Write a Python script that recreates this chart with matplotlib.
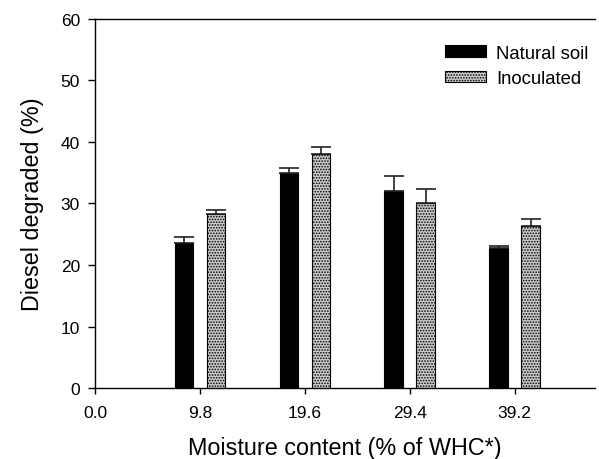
import matplotlib
matplotlib.use("Agg")
import matplotlib.pyplot as plt
import numpy as np

plt.rcParams["font.family"] = ["Liberation Sans", "DejaVu Sans"]
plt.rcParams["hatch.color"] = "#555555"
plt.rcParams["hatch.linewidth"] = 0.8

# --- data ---
moisture = [9.8, 19.6, 29.4, 39.2]
natural = [23.5, 35.0, 32.0, 22.7]
natural_err = [1.1, 0.7, 2.4, 0.4]
inoculated = [28.3, 38.0, 30.1, 26.4]
inoculated_err = [0.6, 1.1, 2.3, 1.1]
xticks = [0.0, 9.8, 19.6, 29.4, 39.2]

fig = plt.figure(figsize=(5.99, 4.60), dpi=100)
ax = fig.add_axes([0.159, 0.154, 0.834, 0.803])

x = np.array(moisture)
w, off = 1.75, 1.5
zeros = [0] * len(x)
ax.bar(x - off, natural, w, color="black", edgecolor="black", linewidth=0.8,
       yerr=[zeros, natural_err], capsize=7,
       error_kw=dict(ecolor="#222222", elinewidth=1.2, capthick=1.2),
       label="Natural soil")
ax.bar(x + off, inoculated, w, color="#cccccc", edgecolor="black", linewidth=0.8,
       hatch="......", yerr=[zeros, inoculated_err], capsize=7,
       error_kw=dict(ecolor="#222222", elinewidth=1.2, capthick=1.2),
       label="Inoculated")

ax.set_xlim(0, 46.7)
ax.set_ylim(0, 60)
ax.set_xticks(xticks)
ax.set_xticklabels([f"{t:.1f}" for t in xticks])
ax.set_yticks(range(0, 61, 10))
ax.tick_params(direction="out", length=5, width=1, labelsize=12.5, pad=6)
ax.tick_params(axis="x", length=4, pad=8)
ax.spines["right"].set_visible(False)
for s in ("left", "bottom", "top"):
    ax.spines[s].set_linewidth(1)

ax.set_xlabel("Moisture content (% of WHC*)", fontsize=16.8, labelpad=12)
ax.set_ylabel("Diesel degraded (%)", fontsize=16.8, labelpad=12)

ax.legend(loc="upper right", bbox_to_anchor=(1.02, 0.975), frameon=False,
          fontsize=13.3, handlelength=2.2, handleheight=0.6, handletextpad=0.55,
          labelspacing=0.45)

fig.savefig("out.png", dpi=100)
